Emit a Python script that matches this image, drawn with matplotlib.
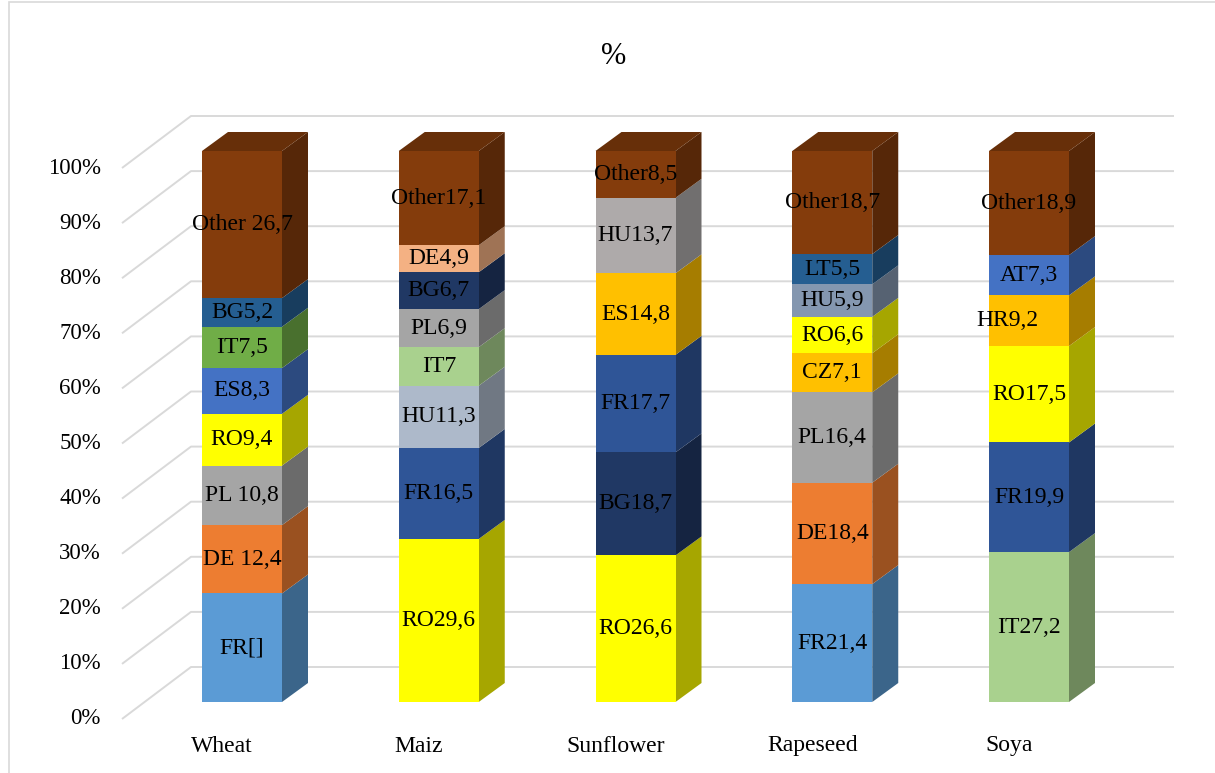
import matplotlib
matplotlib.use("Agg")
import matplotlib.pyplot as plt
from matplotlib.patches import Polygon, Rectangle
from matplotlib.colors import to_rgb
import numpy as np

plt.rcParams['font.family'] = ['Liberation Serif', 'DejaVu Serif']

# ---- data -------------------------------------------------------------
crops = ["Wheat", "Maiz", "Sunflower", "Rapeseed", "Soya"]

wheat_countries = ["FR", "DE", "PL", "RO", "ES", "IT", "BG", "Other"]
wheat_values = [19.7, 12.4, 10.8, 9.4, 8.3, 7.5, 5.2, 26.7]
wheat_labels = ["FR[]", "DE 12,4", "PL 10,8", "RO9,4", "ES8,3", "IT7,5", "BG5,2", "Other 26,7"]

maiz_countries = ["RO", "FR", "HU", "IT", "PL", "BG", "DE", "Other"]
maiz_values = [29.6, 16.5, 11.3, 7.0, 6.9, 6.7, 4.9, 17.1]
maiz_labels = ["RO29,6", "FR16,5", "HU11,3", "IT7", "PL6,9", "BG6,7", "DE4,9", "Other17,1"]

sunflower_countries = ["RO", "BG", "FR", "ES", "HU", "Other"]
sunflower_values = [26.6, 18.7, 17.7, 14.8, 13.7, 8.5]
sunflower_labels = ["RO26,6", "BG18,7", "FR17,7", "ES14,8", "HU13,7", "Other8,5"]

rapeseed_countries = ["FR", "DE", "PL", "CZ", "RO", "HU", "LT", "Other"]
rapeseed_values = [21.4, 18.4, 16.4, 7.1, 6.6, 5.9, 5.5, 18.7]
rapeseed_labels = ["FR21,4", "DE18,4", "PL16,4", "CZ7,1", "RO6,6", "HU5,9", "LT5,5", "Other18,7"]

soya_countries = ["IT", "FR", "RO", "HR", "AT", "Other"]
soya_values = [27.2, 19.9, 17.5, 9.2, 7.3, 18.9]
soya_labels = ["IT27,2", "FR19,9", "RO17,5", "HR9,2", "AT7,3", "Other18,9"]

y_ticks = [0, 10, 20, 30, 40, 50, 60, 70, 80, 90, 100]
y_tick_labels = [f"{t}%" for t in y_ticks]

# ---- segment colours (per crop, bottom to top) -------------------------
wheat_colors = ["#5B9BD5", "#ED7D31", "#A5A5A5", "#FFFF00", "#4472C4", "#70AD47", "#255E91", "#843C0C"]
maiz_colors = ["#FFFF00", "#2F5597", "#ADB9CA", "#A9D18E", "#A5A5A5", "#203864", "#F4B183", "#843C0C"]
sunflower_colors = ["#FFFF00", "#203864", "#2F5597", "#FFC000", "#AEAAAA", "#843C0C"]
rapeseed_colors = ["#5B9BD5", "#ED7D31", "#A5A5A5", "#FFC000", "#FFFF00", "#8497B0", "#255E91", "#843C0C"]
soya_colors = ["#A9D18E", "#2F5597", "#FFFF00", "#FFC000", "#4472C4", "#843C0C"]

stacks = [
    (wheat_values, wheat_labels, wheat_colors),
    (maiz_values, maiz_labels, maiz_colors),
    (sunflower_values, sunflower_labels, sunflower_colors),
    (rapeseed_values, rapeseed_labels, rapeseed_colors),
    (soya_values, soya_labels, soya_colors),
]

# ---- layout (pixel scale of the figure) --------------------------------
W, H = 1215, 773
PX_X = 196.75      # pixels per category step
PX_Y = 5.51        # pixels per percentage point
X_ORIGIN = 242     # pixel column of first category (bar front face centre)
Y_ORIGIN = 702     # pixel row of 0 % on the bar front plane

BAR_W = 80 / PX_X
DEPTH_DX = 26 / PX_X   # bar depth, oblique projection
DEPTH_DY = 19 / PX_Y

fig = plt.figure(figsize=(W / 100, H / 100), dpi=100)
ax = fig.add_axes([0, 0, 1, 1])
ax.set_xlim(-X_ORIGIN / PX_X, (W - X_ORIGIN) / PX_X)
ax.set_ylim((Y_ORIGIN - H) / PX_Y, Y_ORIGIN / PX_Y)
ax.axis("off")


def shade(color, f):
    r, g, b = to_rgb(color)
    return (r * f, g * f, b * f)


# ---- walls: gridlines on the back wall with floor-side diagonals ---------
grid_front_x = (122 - X_ORIGIN) / PX_X
grid_back_x = (191 - X_ORIGIN) / PX_X
grid_right_x = (1174 - X_ORIGIN) / PX_X
front_dy = -17 / PX_Y
back_dy = 35 / PX_Y
for t, lab in zip(y_ticks, y_tick_labels):
    ax.plot([grid_front_x, grid_back_x, grid_right_x],
            [t + front_dy, t + back_dy, t + back_dy],
            color="#D9D9D9", lw=1.4, solid_capstyle="butt", zorder=1)
    ax.text(grid_front_x - 21 / PX_X, t + front_dy, lab,
            ha="right", va="center", fontsize=16.5, color="#000000")

# ---- 3D stacked columns --------------------------------------------------
label_dx = {("Soya", "HR9,2"): -22 / PX_X}
for i, (crop, (vals, labs, cols)) in enumerate(zip(crops, stacks)):
    bottoms = np.concatenate([[0], np.cumsum(vals)[:-1]])
    ax.bar(i, vals, width=BAR_W, bottom=bottoms, color=cols,
           edgecolor="none", linewidth=0, zorder=3)
    xr = i + BAR_W / 2
    xl = i - BAR_W / 2
    for v, b, c, lab in zip(vals, bottoms, cols, labs):
        top = b + v
        side = Polygon([(xr, b), (xr + DEPTH_DX, b + DEPTH_DY),
                        (xr + DEPTH_DX, top + DEPTH_DY), (xr, top)],
                       closed=True, facecolor=shade(c, 0.65),
                       edgecolor="none", zorder=2.5)
        ax.add_patch(side)
        bbox = None
        if c.upper() == "#FFFF00":
            bbox = dict(facecolor="#FFFF00", edgecolor="none", pad=1.0)
        ax.text(i + label_dx.get((crop, lab), 0), b + v / 2, lab,
                ha="center", va="center", fontsize=17, color="#000000",
                bbox=bbox, zorder=5)
    total = bottoms[-1] + vals[-1]
    top_face = Polygon([(xl, total), (xl + DEPTH_DX, total + DEPTH_DY),
                        (xr + DEPTH_DX, total + DEPTH_DY), (xr, total)],
                       closed=True, facecolor=shade(cols[-1], 0.78),
                       edgecolor="none", zorder=2.6)
    ax.add_patch(top_face)
    ax.text(i - 20 / PX_X, (Y_ORIGIN - 746) / PX_Y, crop,
            ha="center", va="center", fontsize=17, color="#000000")

# ---- title and chart frame ----------------------------------------------
fig.text(614 / W, 1 - 57 / H, "%", ha="center", va="center",
         fontsize=22, color="#000000")
fig.patches.append(Rectangle((9 / W, -0.05), 1.2, 1.05 - 1.5 / H,
                             transform=fig.transFigure, fill=False,
                             edgecolor="#D9D9D9", linewidth=1.2))

fig.savefig("out.png", dpi=100)
